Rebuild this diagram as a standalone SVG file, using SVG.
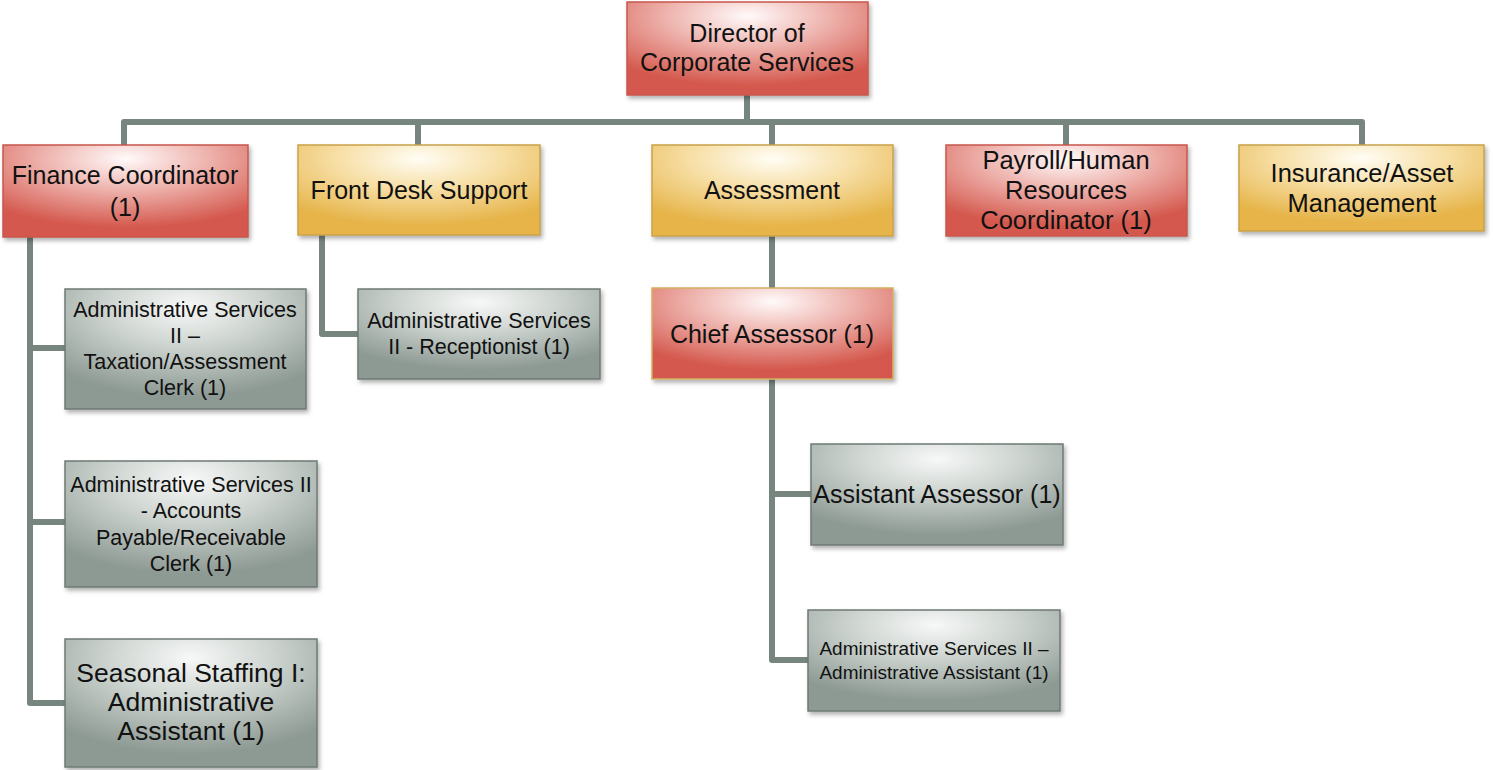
<svg xmlns="http://www.w3.org/2000/svg" width="1493" height="770" viewBox="0 0 1493 770">
<defs>
<radialGradient id="gRed" cx="0.5" cy="0.15" r="0.75" fx="0.5" fy="0.15">
<stop offset="0" stop-color="#fffafa"/>
<stop offset="0.45" stop-color="#eeb3ad"/>
<stop offset="1" stop-color="#d4584d"/>
</radialGradient>
<radialGradient id="gGold" cx="0.5" cy="0.15" r="0.75" fx="0.5" fy="0.15">
<stop offset="0" stop-color="#fffdf4"/>
<stop offset="0.45" stop-color="#f7dfa6"/>
<stop offset="1" stop-color="#e6b449"/>
</radialGradient>
<radialGradient id="gGray" cx="0.5" cy="0.15" r="0.75" fx="0.5" fy="0.15">
<stop offset="0" stop-color="#f7f8f7"/>
<stop offset="0.45" stop-color="#ccd3cf"/>
<stop offset="1" stop-color="#8d9993"/>
</radialGradient>
<filter id="sh" x="-5%" y="-5%" width="115%" height="120%">
<feDropShadow dx="2" dy="3" stdDeviation="2" flood-color="#000" flood-opacity="0.3"/>
</filter>
</defs>
<style>
.red{fill:url(#gRed);stroke:#c8574c;stroke-width:1.5;filter:url(#sh)}
.gold{fill:url(#gGold);stroke:#c9a24a;stroke-width:1.5;filter:url(#sh)}
.gray{fill:url(#gGray);stroke:#6f7a74;stroke-width:1.5;filter:url(#sh)}
.chief{fill:url(#gRed);stroke:#d2b060;stroke-width:1.5;filter:url(#sh)}
text{font-family:"Liberation Sans",Arial,sans-serif;fill:#111;text-anchor:middle}
.L{font-size:25px}
.LL{font-size:25.5px}
.XL{font-size:26.5px}
.M{font-size:21.5px}
.S{font-size:19px}
.conn{fill:none;stroke:#76867f;stroke-width:6;stroke-linejoin:round;stroke-linecap:butt}
</style>
<g id="connectors">
<path class="conn" d="M747 95 V122"/>
<path class="conn" d="M124 145 V122 H1362 V145"/>
<path class="conn" d="M418 122 V145"/>
<path class="conn" d="M772 122 V145"/>
<path class="conn" d="M1066 122 V145"/>
<path class="conn" d="M30 237 V703 H65"/>
<path class="conn" d="M30 348 H65"/>
<path class="conn" d="M30 522 H65"/>
<path class="conn" d="M322 235 V334 H358"/>
<path class="conn" d="M772 236 V288"/>
<path class="conn" d="M772 379 V660 H808"/>
<path class="conn" d="M772 494 H811"/>
</g>
<g id="director">
<rect class="red" x="627" y="2" width="241" height="93"/>
<text class="L" x="747" y="42">Director of</text>
<text class="L" x="747" y="71">Corporate Services</text>
</g>
<g id="finance">
<rect class="red" x="3" y="145" width="245" height="92"/>
<text class="L" x="125" y="184">Finance Coordinator</text>
<text class="L" x="125" y="216">(1)</text>
</g>
<g id="frontdesk">
<rect class="gold" x="298" y="145" width="242" height="90"/>
<text class="L" x="419" y="199">Front Desk Support</text>
</g>
<g id="assessment">
<rect class="gold" x="652" y="145" width="241" height="91"/>
<text class="L" x="772" y="199">Assessment</text>
</g>
<g id="payroll">
<rect class="red" x="946" y="145" width="241" height="91"/>
<text class="LL" x="1066" y="169">Payroll/Human</text>
<text class="LL" x="1066" y="199">Resources</text>
<text class="LL" x="1066" y="229">Coordinator (1)</text>
</g>
<g id="insurance">
<rect class="gold" x="1239" y="145" width="245" height="86"/>
<text class="LL" x="1362" y="182">Insurance/Asset</text>
<text class="LL" x="1362" y="212">Management</text>
</g>
<g id="taxation">
<rect class="gray" x="65" y="289" width="241" height="120"/>
<text class="M" x="185" y="317">Administrative Services</text>
<text class="M" x="185" y="343">II –</text>
<text class="M" x="185" y="369">Taxation/Assessment</text>
<text class="M" x="185" y="395">Clerk (1)</text>
</g>
<g id="receptionist">
<rect class="gray" x="358" y="289" width="242" height="90"/>
<text class="M" x="479" y="328">Administrative Services</text>
<text class="M" x="479" y="354">II - Receptionist (1)</text>
</g>
<g id="chief">
<rect class="chief" x="652" y="288" width="241" height="91"/>
<text class="L" x="772" y="343">Chief Assessor (1)</text>
</g>
<g id="accounts">
<rect class="gray" x="65" y="461" width="252" height="126"/>
<text class="M" x="191" y="492">Administrative Services II</text>
<text class="M" x="191" y="518">- Accounts</text>
<text class="M" x="191" y="545">Payable/Receivable</text>
<text class="M" x="191" y="571">Clerk (1)</text>
</g>
<g id="seasonal">
<rect class="gray" x="65" y="639" width="252" height="128"/>
<text class="XL" x="191" y="682">Seasonal Staffing I:</text>
<text class="XL" x="191" y="711">Administrative</text>
<text class="XL" x="191" y="740">Assistant (1)</text>
</g>
<g id="assistant">
<rect class="gray" x="811" y="444" width="252" height="101"/>
<text class="L" x="937" y="503">Assistant Assessor (1)</text>
</g>
<g id="adminassistant">
<rect class="gray" x="808" y="610" width="252" height="101"/>
<text class="S" x="934" y="655">Administrative Services II –</text>
<text class="S" x="934" y="679">Administrative Assistant (1)</text>
</g>
</svg>
